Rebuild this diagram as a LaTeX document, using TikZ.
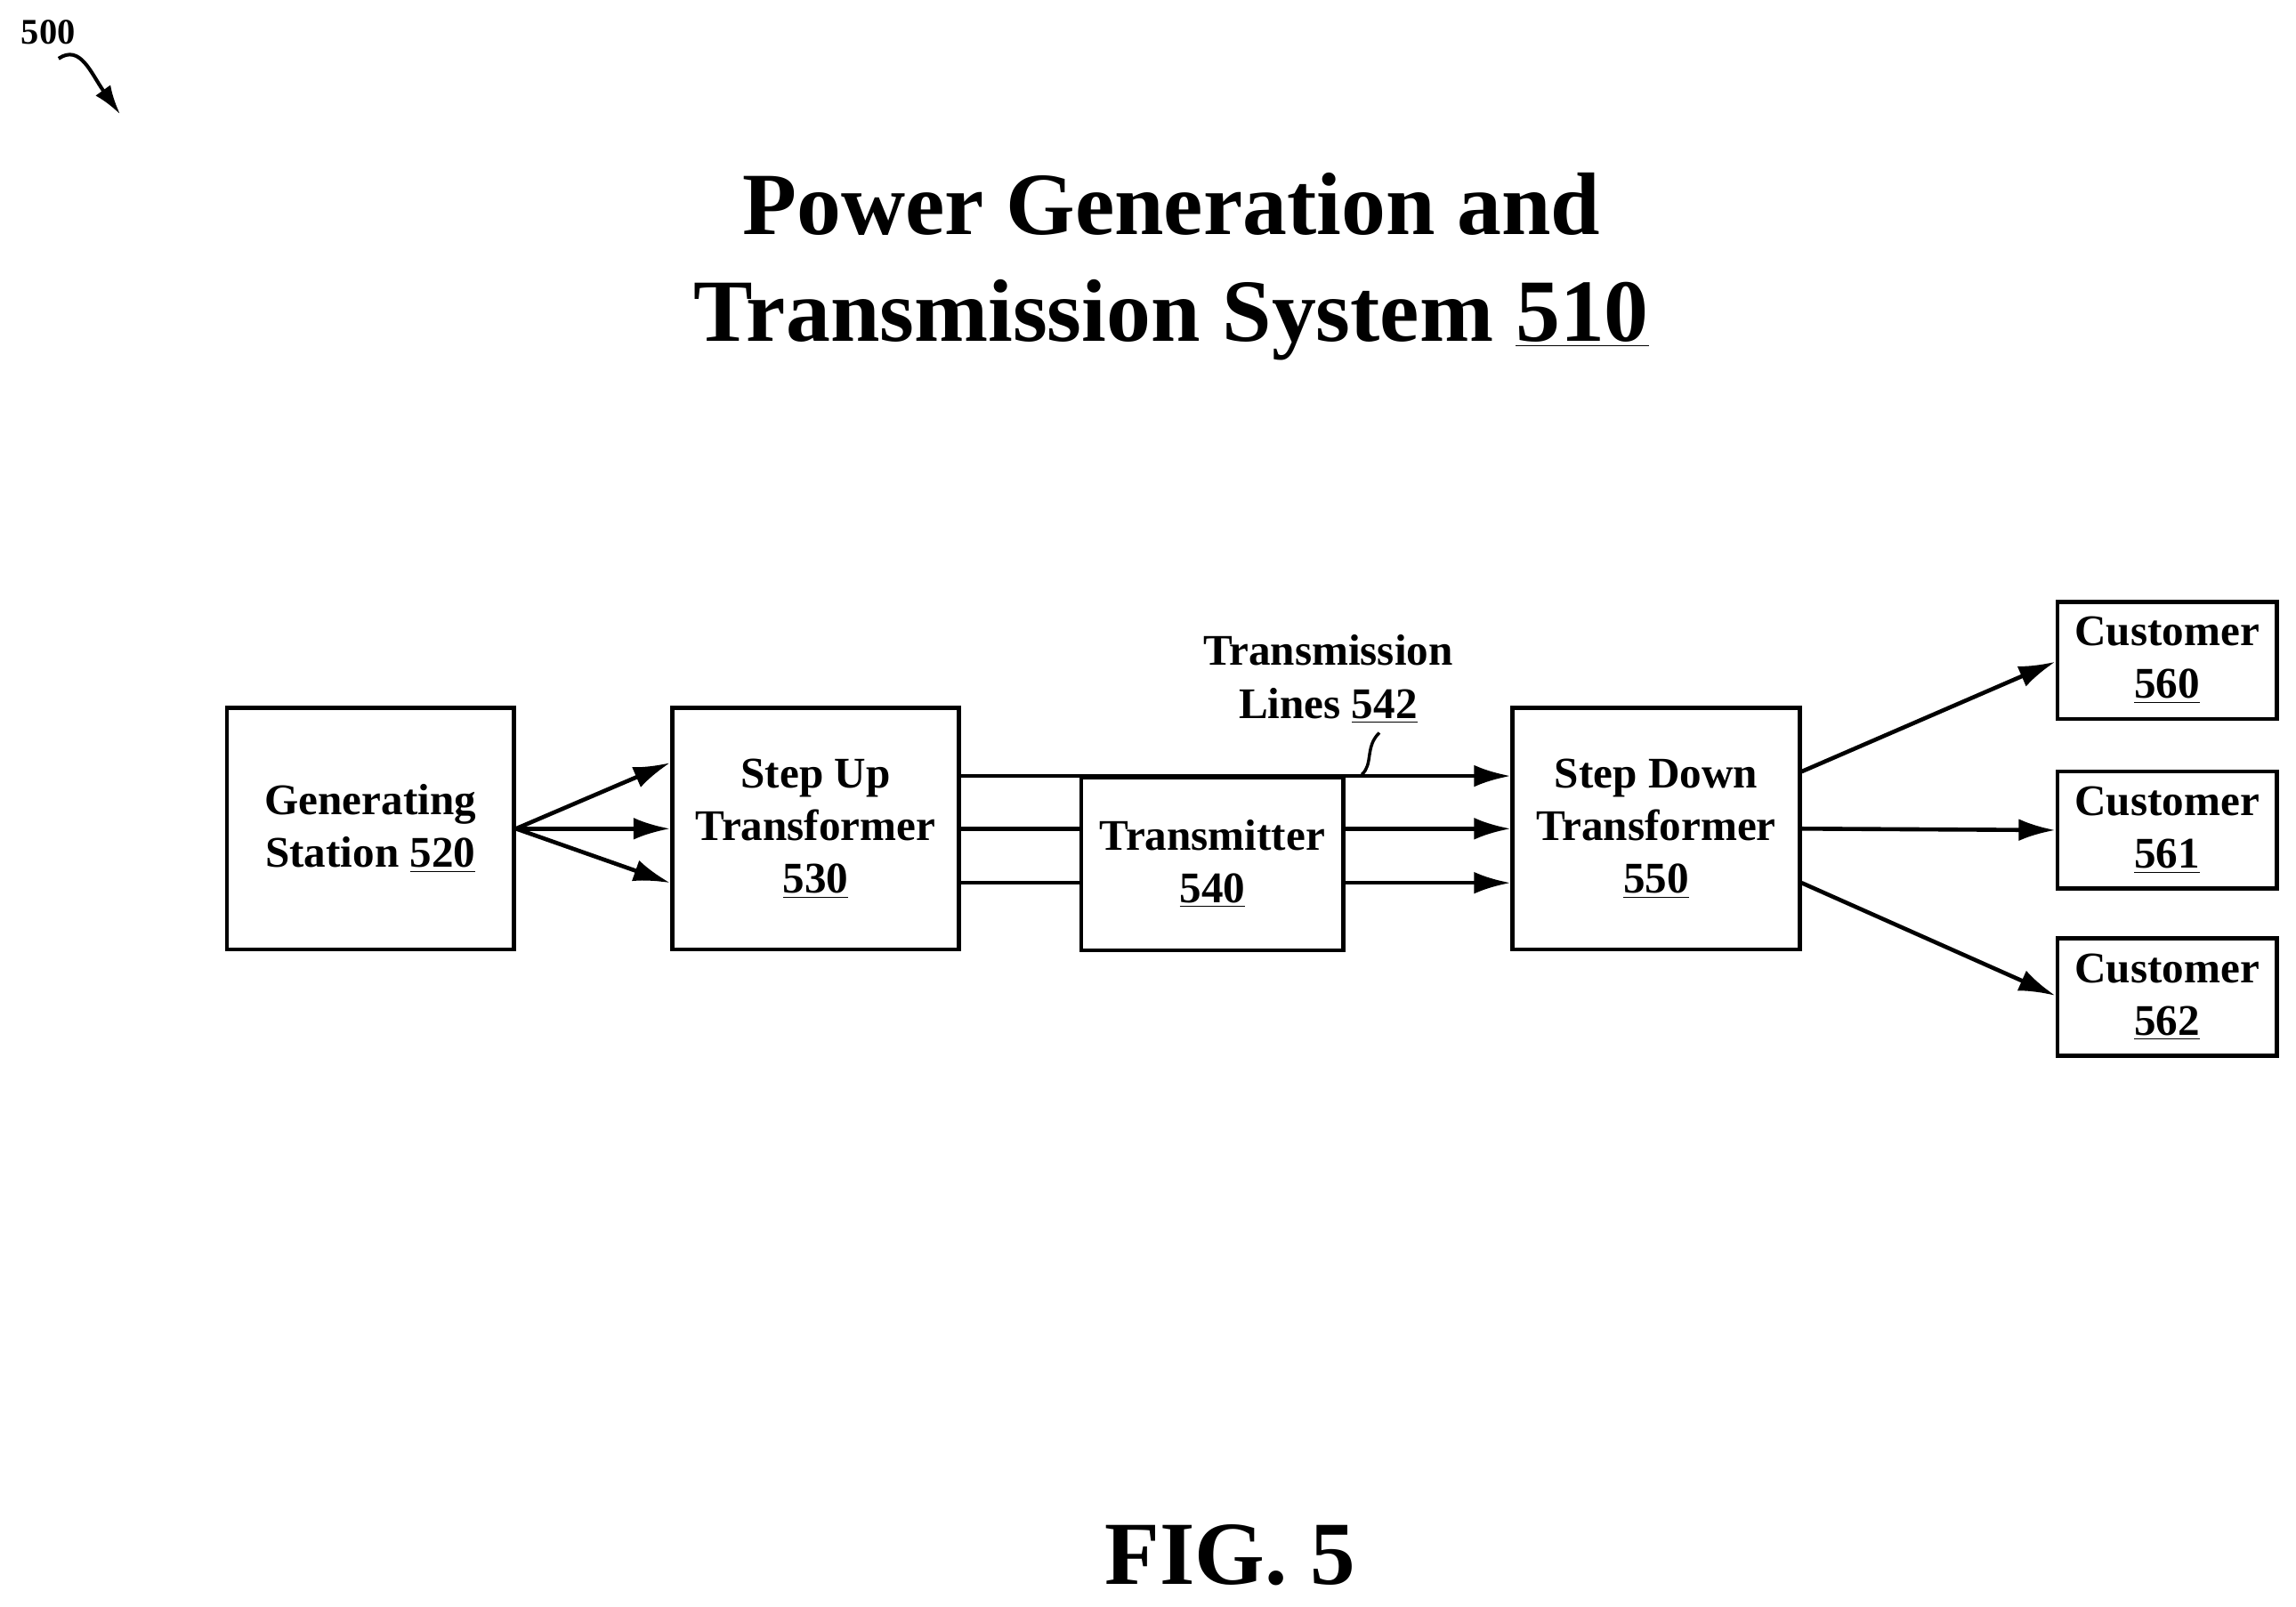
\documentclass[tikz,border=0pt]{standalone}
\usepackage{fontspec}
\setmainfont{Liberation Serif}
\usetikzlibrary{positioning,arrows.meta}
\tikzset{
  blk/.style={draw=black, line width=1.6pt, inner sep=0pt, align=center, font=\fontsize{17}{20.5}\selectfont\bfseries},
  cust/.style={blk, minimum width=3cm, minimum height=1.6cm},
  wire/.style={line width=1.6pt},
  arr/.style={wire, -{Latex[length=0.5cm,width=0.3cm]}}
}
\begin{document}
\begin{tikzpicture}[x=0.02cm, y=-0.02cm]
  \useasboundingbox (0,0) rectangle (1568,1097);
  % labels
  \node [font=\fontsize{14}{16}\selectfont\bfseries] (REF) at (33,22) {500};
  \coordinate (REFA) at (40,40);
  \coordinate (REFB) at (82,78);
  \draw [wire, line width=1.4pt, -{Latex[length=0.4cm,width=0.25cm]}] (REFA) .. controls (55,30) and (62,50) .. (REFB);
  \node [align=center, font=\fontsize{34.5}{41.5}\selectfont\bfseries] (TITLE) at (800,182)
    {Power Generation and\\Transmission System \underline{510}};
  \node [font=\fontsize{35}{40}\selectfont\bfseries] (FIG) at (840,1062) {FIG. 5};
  % blocks
  \node [blk, minimum width=3.92cm, minimum height=3.3cm] (GEN) at (253,566) {Generating\\Station \underline{520}};
  \node [blk, minimum width=3.92cm, minimum height=3.3cm] (SUP) at (557,566) {Step Up\\Transformer\\\underline{530}};
  \node [blk, minimum width=3.58cm, minimum height=2.36cm] (TX) at (828,590) {Transmitter\\\underline{540}};
  \node [blk, minimum width=3.92cm, minimum height=3.3cm] (SDN) at (1131,566) {Step Down\\Transformer\\\underline{550}};
  \node [cust] (C560) at (1480,451) {Customer\\\underline{560}};
  \node [cust] (C561) at (1480,567) {Customer\\\underline{561}};
  \node [cust] (C562) at (1480,681) {Customer\\\underline{562}};
  \node [align=center, font=\fontsize{17}{20.5}\selectfont\bfseries] (TL) at (907,464) {Transmission\\Lines \underline{542}};
  % connectors
  \draw [arr] (GEN.east) -- (SUP.west |- 0,521);
  \draw [arr] (GEN.east) -- (SUP.west);
  \draw [arr] (GEN.east) -- (SUP.west |- 0,603);
  \draw [arr] (SUP.east |- 0,530) -- (SDN.west |- 0,530);
  \draw [wire] (SUP.east) -- (TX.west |- SUP.east);
  \draw [wire] (SUP.east |- 0,603) -- (TX.west |- 0,603);
  \draw [arr] (TX.east |- SDN.west) -- (SDN.west);
  \draw [arr] (TX.east |- 0,603) -- (SDN.west |- 0,603);
  \draw [arr] (SDN.east |- 0,527) -- (C560.west |- 0,452);
  \draw [arr] (SDN.east) -- (C561.west);
  \draw [arr] (SDN.east |- 0,603) -- (C562.west |- 0,680);
  \coordinate (TLA) at (930,529);
  \draw [wire, line width=1.2pt] (TLA) .. controls (938,522) and (932,510) .. (TL.south -| 942,0);
\end{tikzpicture}
\end{document}
